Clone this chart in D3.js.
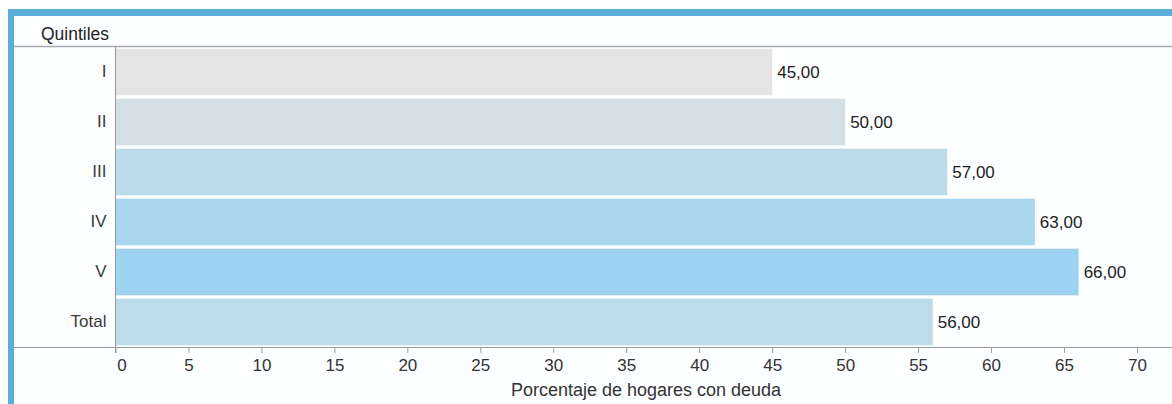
<!DOCTYPE html>
<html>
<head>
<meta charset="utf-8">
<script src="https://cdn.jsdelivr.net/npm/d3@7"></script>
<style>
  html, body { margin: 0; padding: 0; background: #ffffff; }
  svg { display: block; font-family: "Liberation Sans", Arial, sans-serif; }
</style>
</head>
<body>
<svg id="chart" width="1172" height="404"></svg>
<script>
// ---- data ----
const categories = ["I", "II", "III", "IV", "V", "Total"];
const values = [45, 50, 57, 63, 66, 56];
const tickValues = [0, 5, 10, 15, 20, 25, 30, 35, 40, 45, 50, 55, 60, 65, 70];
const yTitle = "Quintiles";
const xTitle = "Porcentaje de hogares con deuda";

// ---- styles ----
const barColors = ["#e4e4e4", "#d4dee5", "#bcdbea", "#a9d6ef", "#9dd3f0", "#bddcea"];
const W = 1172, H = 404;
const m = { left: 115.5, right: 1137, top: 47, bottom: 347 };

const svg = d3.select("#chart");

// frame
svg.append("rect").attr("x", 8).attr("y", 9).attr("width", W - 8).attr("height", H - 9).attr("fill", "#5badda");
svg.append("rect").attr("x", 14).attr("y", 16).attr("width", W - 14).attr("height", H - 16).attr("fill", "#fcfeff");

const x = d3.scaleLinear().domain([0, 70]).range([m.left, m.right]);
const y = d3.scaleBand().domain(categories).range([m.top, m.bottom]).paddingInner(0.068).paddingOuter(0.034);

const loc = d3.formatLocale({ decimal: ",", thousands: ".", grouping: [3], currency: ["", ""] });
const fmt = loc.format(".2f");

// bars
svg.append("g").selectAll("rect").data(values).join("rect")
  .attr("x", x(0))
  .attr("y", (d, i) => y(categories[i]))
  .attr("width", d => x(d) - x(0))
  .attr("height", y.bandwidth())
  .attr("fill", (d, i) => barColors[i]);

// value labels
svg.append("g").selectAll("text").data(values).join("text")
  .attr("x", d => x(d) + 5)
  .attr("y", (d, i) => y(categories[i]) + y.bandwidth() / 2)
  .attr("dy", "0.35em")
  .attr("font-size", 17)
  .attr("fill", "#222")
  .text(d => fmt(d));

// top line
svg.append("line").attr("x1", 14).attr("x2", W).attr("y1", 46.5).attr("y2", 46.5)
  .attr("stroke", "#a9a9a9").attr("stroke-width", 1.5);

// x axis
const xAxis = d3.axisBottom(x).tickValues(tickValues).tickSize(6).tickPadding(6).tickFormat(d3.format("d"));
const gx = svg.append("g").attr("transform", `translate(0,${m.bottom})`).call(xAxis);
gx.select(".domain").remove();
gx.selectAll(".tick line").attr("stroke", "#999");
gx.selectAll(".tick text").attr("font-size", 17).attr("fill", "#333").attr("font-family", "Liberation Sans, Arial, sans-serif")
  .attr("dx", d => d === 0 ? 6 : 0);
svg.append("line").attr("x1", 14).attr("x2", W).attr("y1", m.bottom + 0.5).attr("y2", m.bottom + 0.5)
  .attr("stroke", "#999").attr("stroke-width", 1);

// y axis
const yAxis = d3.axisLeft(y).tickSize(0).tickPadding(9);
const gy = svg.append("g").attr("transform", `translate(${m.left},0)`).call(yAxis);
gy.select(".domain").remove();
gy.selectAll(".tick text").attr("font-size", 17).attr("fill", "#3a3a3a").attr("font-family", "Liberation Sans, Arial, sans-serif");
svg.append("line").attr("x1", m.left).attr("x2", m.left).attr("y1", m.top).attr("y2", m.bottom + 6)
  .attr("stroke", "#999").attr("stroke-width", 1);

// titles
svg.append("text").attr("x", 41).attr("y", 40).attr("font-size", 17.5).attr("fill", "#222").text(yTitle);
svg.append("text").attr("x", 646).attr("y", 396).attr("text-anchor", "middle")
  .attr("font-size", 18).attr("fill", "#333").text(xTitle);
</script>
</body>
</html>
